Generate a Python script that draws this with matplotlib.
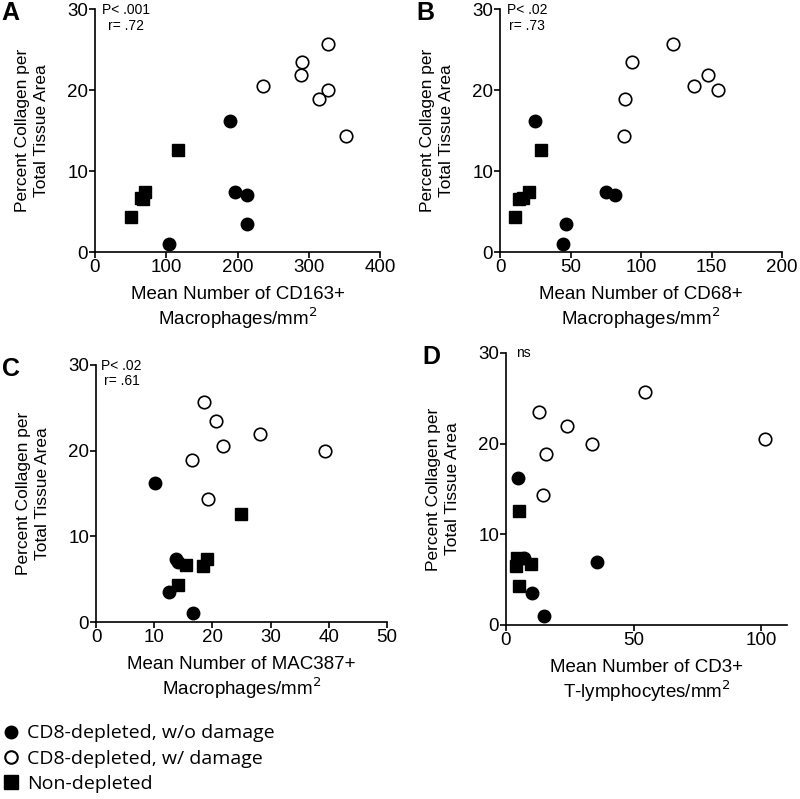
import matplotlib
matplotlib.use("Agg")
import matplotlib.pyplot as plt
from matplotlib.lines import Line2D

plt.rcParams['font.family'] = ['Liberation Sans', 'DejaVu Sans']

# collagen values (same animals in every panel)
open_y = [25.7, 23.5, 21.9, 20.5, 20.0, 18.9, 14.3]
filled_y = [16.2, 7.4, 7.0, 3.5, 1.0]
square_y = [12.6, 7.4, 6.7, 6.5, 4.3]

# CD163+
a_open_x = [327, 291, 289, 236, 327, 315, 352]
a_filled_x = [190, 196, 213, 213, 104]
a_square_x = [117, 70, 64, 68, 51]

# CD68+
b_open_x = [123, 93.5, 147.5, 137.7, 154.3, 88.3, 87.6]
b_filled_x = [24.9, 75, 81.7, 46.6, 44.5]
b_square_x = [28.9, 20.8, 16.6, 13.7, 10.7]

# MAC387+
c_open_x = [18.5, 20.6, 28.2, 21.8, 39.3, 16.5, 19.2]
c_filled_x = [10.1, 13.8, 14.1, 12.5, 16.6]
c_square_x = [24.9, 19.0, 15.4, 18.3, 14.1]

# CD3+
d_open_x = [54.6, 13.1, 23.8, 101.3, 33.6, 15.7, 14.4]
d_filled_x = [4.6, 7.2, 35.6, 10.1, 14.9]
d_square_x = [5.2, 4.2, 9.8, 3.8, 5.1]

panels = [
    dict(letter="A", pos=[0.11875, 0.6846, 0.35625, 0.3041], xmax=400, xticks=[0, 100, 200, 300, 400],
         xlabel="Mean Number of CD163+\nMacrophages/mm$^2$", stat="P< .001\nr= .72", sx=0.11,
         ox=a_open_x, fx=a_filled_x, qx=a_square_x),
    dict(letter="B", pos=[0.625, 0.6846, 0.3525, 0.3041], xmax=200, xticks=[0, 50, 100, 150, 200],
         xlabel="Mean Number of CD68+\nMacrophages/mm$^2$", stat="P< .02\nr= .73", sx=0.095,
         ox=b_open_x, fx=b_filled_x, qx=b_square_x),
    dict(letter="C", pos=[0.12, 0.2215, 0.36375, 0.3217], xmax=50, xticks=[0, 10, 20, 30, 40, 50],
         xlabel="Mean Number of MAC387+\nMacrophages/mm$^2$", stat="P< .02\nr= .61", sx=0.088,
         ox=c_open_x, fx=c_filled_x, qx=c_square_x),
    dict(letter="D", pos=[0.6325, 0.2178, 0.35125, 0.3404], xmax=110, xticks=[0, 50, 100],
         xlabel="Mean Number of CD3+\nT-lymphocytes/mm$^2$", stat="ns", sx=0.062,
         ox=d_open_x, fx=d_filled_x, qx=d_square_x),
]

fig = plt.figure(figsize=(8, 7.99), dpi=100)

for p in panels:
    ax = fig.add_axes(p["pos"])
    ax.plot(p["ox"], open_y, 'o', ms=9, mfc='white', mec='black', mew=1.2, clip_on=False)
    ax.plot(p["fx"], filled_y, 'o', ms=9, mfc='black', mec='black', clip_on=False)
    ax.plot(p["qx"], square_y, 's', ms=8.5, mfc='black', mec='black', clip_on=False)
    ax.set_xlim(0, p["xmax"])
    ax.set_ylim(0, 30)
    ax.set_xticks(p["xticks"])
    ax.set_yticks([0, 10, 20, 30])
    for s in ["top", "right"]:
        ax.spines[s].set_visible(False)
    for s in ["left", "bottom"]:
        ax.spines[s].set_linewidth(1.2)
    ax.tick_params(direction='out', length=4, width=1.2, labelsize=13.5, pad=1)
    ax.set_xlabel(p["xlabel"], fontsize=13.5, labelpad=7, linespacing=1.15)
    ax.set_ylabel("Percent Collagen per\nTotal Tissue Area", fontsize=12.5, labelpad=13, linespacing=1.3)
    ax.text(p["sx"], 1.025, p["stat"], transform=ax.transAxes, ha='center', va='top',
            fontsize=10, linespacing=1.15)
    bb = ax.get_position()
    fig.text(bb.x0 - 0.117 if p["letter"] in "AC" else bb.x0 - 0.105, bb.y1 + 0.01,
             p["letter"], fontsize=18, fontweight='bold', va='top', ha='left')

handles = [
    Line2D([], [], ls='none', marker='o', ms=9, mfc='black', mec='black'),
    Line2D([], [], ls='none', marker='o', ms=9, mfc='white', mec='black', mew=1.5),
    Line2D([], [], ls='none', marker='s', ms=9.5, mfc='black', mec='black'),
]
labels = ["CD8-depleted, w/o damage", "CD8-depleted, w/ damage", "Non-depleted"]
fig.legend(handles, labels, loc='upper left', bbox_to_anchor=(-0.015, 0.108), frameon=False,
           handletextpad=0.2, labelspacing=0.38, handlelength=1.2, borderaxespad=0.2,
           prop={'family': 'Open Sans', 'size': 14})

fig.savefig("out.png", dpi=100)
